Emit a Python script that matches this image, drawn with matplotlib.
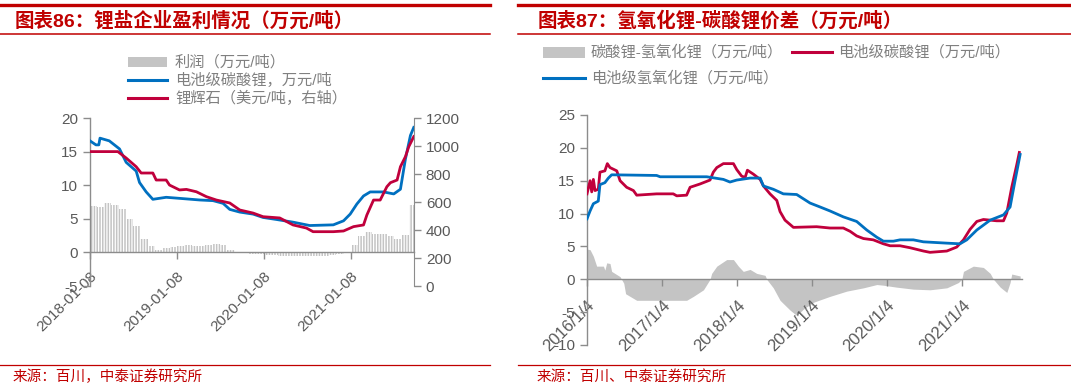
import numpy as np
import matplotlib
matplotlib.use('Agg')
import matplotlib.pyplot as plt
import matplotlib.dates as mdates
from matplotlib.patches import Rectangle
from matplotlib.lines import Line2D

plt.rcParams['font.family'] = ['Liberation Sans', 'Noto Sans CJK SC']
plt.rcParams['hatch.linewidth'] = 0.9
plt.rcParams['axes.unicode_minus'] = False

# ---------------- data: chart 86 ----------------
# 电池级碳酸锂 (万元/吨, left axis)
li2co3_dates = ['2018-01-08', '2018-02-02', '2018-02-14', '2018-02-19', '2018-03-30', '2018-05-12',
                '2018-06-09', '2018-07-21', '2018-08-04', '2018-09-01', '2018-09-29', '2018-11-24',
                '2019-02-03', '2019-04-14', '2019-06-09', '2019-07-21', '2019-08-18', '2019-09-29',
                '2019-11-24', '2020-01-05', '2020-03-01', '2020-05-10', '2020-07-19', '2020-10-26',
                '2020-12-08', '2021-01-05', '2021-02-02', '2021-03-02', '2021-03-30', '2021-05-25',
                '2021-07-07', '2021-08-04', '2021-08-25', '2021-09-15', '2021-09-29']
li2co3_vals = [16.6, 16.0, 16.0, 17.0, 16.6, 15.4,
               13.4, 12.1, 10.4, 9.0, 7.9, 8.2,
               8.0, 7.8, 7.7, 7.3, 6.4, 6.0,
               5.7, 5.2, 4.9, 4.5, 4.0, 4.1,
               4.7, 5.7, 7.2, 8.4, 9.0, 9.0,
               8.7, 9.4, 13.9, 17.4, 18.6]

# 锂辉石 (美元/吨, right axis)
spod_dates = ['2018-01-08', '2018-05-05', '2018-06-09', '2018-07-21', '2018-08-11', '2018-09-29',
              '2018-10-13', '2018-11-24', '2018-12-08', '2019-01-19', '2019-02-17', '2019-03-31',
              '2019-05-12', '2019-06-23', '2019-08-18', '2019-09-29', '2019-11-24', '2020-01-05',
              '2020-03-15', '2020-05-10', '2020-07-05', '2020-08-02', '2020-10-26', '2020-12-08',
              '2021-01-19', '2021-03-02', '2021-03-16', '2021-04-13', '2021-05-11', '2021-06-08',
              '2021-06-23', '2021-07-21', '2021-08-04', '2021-08-25', '2021-09-08', '2021-09-29']
spod_vals = [960, 960, 914, 852, 807, 807,
             757, 757, 721, 686, 690, 673,
             638, 614, 593, 543, 521, 495,
             486, 436, 414, 388, 388, 393,
             424, 436, 507, 614, 614, 709,
             738, 757, 852, 924, 995, 1067]

# 利润 (万元/吨), one bar per month from 2018-01
profit_vals = [6.9, 6.7, 7.4, 7.0, 6.4, 5.0, 4.0, 2.0, 0.9, 0.4,
               0.6, 0.8, 1.0, 1.1, 1.0, 1.0, 1.1, 1.2, 1.1, 0.3,
               0.05, -0.05, -0.2, -0.3, -0.4, -0.4, -0.5, -0.5, -0.6, -0.6,
               -0.6, -0.6, -0.5, -0.4, -0.3, -0.1, 1.1, 2.4, 3.1, 2.8,
               2.7, 2.5, 2.0, 2.6, 7.0]

left_ticks = ['2018-01-08', '2019-01-08', '2020-01-08', '2021-01-08']

# ---------------- data: chart 87 ----------------
carb_dates = ['2016-01-04', '2016-01-19', '2016-01-27', '2016-02-04', '2016-02-12', '2016-02-28',
              '2016-03-07', '2016-03-31', '2016-04-12', '2016-04-25', '2016-05-28', '2016-06-13',
              '2016-07-15', '2016-08-17', '2016-09-02', '2016-12-08', '2017-02-27', '2017-03-16',
              '2017-05-03', '2017-05-20', '2017-07-07', '2017-08-25', '2017-09-10', '2017-09-27',
              '2017-10-29', '2017-12-17', '2018-01-02', '2018-01-26', '2018-02-12', '2018-02-23',
              '2018-03-24', '2018-04-26', '2018-05-12', '2018-06-13', '2018-07-16', '2018-08-01',
              '2018-08-25', '2018-10-05', '2019-01-26', '2019-04-01', '2019-06-05', '2019-07-08',
              '2019-08-09', '2019-09-11', '2019-10-29', '2019-12-17', '2020-01-19', '2020-03-07',
              '2020-04-25', '2020-06-29', '2020-07-31', '2020-10-21', '2020-12-08', '2021-01-10',
              '2021-02-11', '2021-03-16', '2021-04-17', '2021-06-21', '2021-07-24', '2021-08-09',
              '2021-09-02', '2021-09-27', '2021-10-09']
carb_vals = [13.0, 15.0, 13.3, 15.2, 13.5, 13.7,
             16.3, 16.5, 17.6, 17.0, 16.5, 15.0,
             14.0, 13.5, 12.8, 13.0, 13.0, 12.7,
             12.8, 14.0, 14.5, 15.1, 16.3, 17.0,
             17.6, 17.6, 16.7, 15.7, 15.5, 16.6,
             16.0, 15.2, 14.2, 13.0, 12.0, 10.3,
             9.0, 7.9, 8.0, 7.8, 7.8, 7.3,
             6.6, 6.2, 6.0, 5.4, 5.1, 5.1,
             4.8, 4.3, 4.1, 4.3, 4.9, 6.0,
             7.6, 8.8, 9.1, 8.9, 8.9, 10.1,
             14.0, 17.5, 19.3]

hydr_dates = ['2016-01-04', '2016-01-19', '2016-02-04', '2016-02-28', '2016-03-07', '2016-03-31',
              '2016-04-17', '2016-05-03', '2016-12-08', '2016-12-25', '2017-08-09', '2017-10-29',
              '2017-11-30', '2018-01-02', '2018-03-08', '2018-04-26', '2018-05-12', '2018-06-29',
              '2018-08-17', '2018-10-21', '2018-12-25', '2019-02-12', '2019-04-01', '2019-06-05',
              '2019-08-09', '2019-09-27', '2019-11-15', '2019-12-17', '2020-02-04', '2020-03-07',
              '2020-05-11', '2020-06-29', '2020-10-21', '2020-12-24', '2021-01-26', '2021-03-16',
              '2021-05-20', '2021-07-24', '2021-08-25', '2021-09-18', '2021-10-13']
hydr_vals = [9.2, 10.4, 11.5, 11.9, 14.4, 14.7,
             15.4, 15.9, 15.8, 15.6, 15.6, 15.2,
             14.8, 15.1, 15.4, 15.4, 14.2, 13.7,
             13.0, 12.9, 11.6, 11.0, 10.4, 9.5,
             8.8, 7.5, 6.4, 5.8, 5.8, 6.0,
             6.0, 5.7, 5.5, 5.4, 6.0, 7.5,
             9.0, 9.8, 11.0, 15.0, 19.0]

spread_dates = ['2016-01-04', '2016-01-19', '2016-02-04', '2016-02-20', '2016-03-24', '2016-03-31',
                '2016-04-09', '2016-04-25', '2016-05-03', '2016-06-13', '2016-07-01', '2016-07-10',
                '2016-09-02', '2017-05-03', '2017-06-05', '2017-07-24', '2017-08-25', '2017-09-02',
                '2017-09-27', '2017-11-14', '2017-12-17', '2018-01-10', '2018-02-03', '2018-03-08',
                '2018-04-09', '2018-05-20', '2018-05-28', '2018-06-29', '2018-08-01', '2018-09-19',
                '2018-10-21', '2018-11-24', '2019-01-10', '2019-04-01', '2019-06-22', '2019-09-11',
                '2019-11-15', '2019-12-17', '2020-02-20', '2020-05-11', '2020-07-31', '2020-10-21',
                '2020-12-16', '2021-01-02', '2021-01-10', '2021-02-27', '2021-04-17', '2021-05-20',
                '2021-06-05', '2021-07-08', '2021-08-09', '2021-08-25', '2021-09-02', '2021-10-13']
spread_vals = [4.6, 4.5, 3.5, 2.0, 2.0, 1.4,
               2.5, 2.4, 1.2, 0.4, -0.6, -2.2,
               -3.2, -3.2, -2.6, -1.6, 0.0, 0.9,
               2.0, 3.0, 3.0, 2.0, 1.2, 1.5,
               0.9, 0.6, 0.0, -1.3, -3.2, -4.7,
               -5.5, -4.5, -3.5, -2.6, -1.8, -1.3,
               -0.8, -0.9, -1.2, -1.5, -1.6, -1.3,
               -0.5, 0.0, 1.2, 2.0, 1.8, 0.9,
               0.0, -1.2, -2.0, -0.5, 0.8, 0.5]

right_ticks = ['2016-01-04', '2017-01-04', '2018-01-04', '2019-01-04', '2020-01-04', '2021-01-04']
right_labels = ['2016/1/4', '2017/1/4', '2018/1/4', '2019/1/4', '2020/1/4', '2021/1/4']

# ---------------- styling ----------------
RED_T = '#C00000'
BLUE = '#0070C0'
RED = '#C0003C'
GRAY = '#C4C4C4'
SPINE = '#8C8C8C'
TXT = '#595959'
LEG = '#808080'

W, H = 1071, 387
def fx(x):
    return x / W
def fy(y):
    return 1 - y / H

d = mdates.datestr2num

fig = plt.figure(figsize=(W / 100, H / 100), dpi=100)

# header / footer decoration
for x0, x1 in [(0, 490), (518, 1071)]:
    fig.add_artist(Line2D([fx(x0), fx(x1)], [fy(4.5), fy(4.5)], color=RED_T, lw=2.4))
    fig.add_artist(Line2D([fx(x0), fx(x1)], [fy(33.5), fy(33.5)], color=RED_T, lw=1.1))
    fig.add_artist(Line2D([fx(x0), fx(x1)], [fy(365), fy(365)], color=RED_T, lw=0.9))

fig.text(fx(15), fy(21), '图表86：锂盐企业盈利情况（万元/吨）', color=RED_T, fontsize=14,
         fontweight='bold', va='center', ha='left')
fig.text(fx(538), fy(21), '图表87：氢氧化锂-碳酸锂价差（万元/吨）', color=RED_T, fontsize=14,
         fontweight='bold', va='center', ha='left')
fig.text(fx(13), fy(377), '来源：百川，中泰证券研究所', color=RED_T, fontsize=10.5, va='center')
fig.text(fx(537), fy(377), '来源：百川、中泰证券研究所', color=RED_T, fontsize=10.5, va='center')

# legends (hand placed like the report)
fig.add_artist(Rectangle((fx(128), fy(66.5)), fx(39), 9 / H, color=GRAY, lw=0))
fig.add_artist(Line2D([fx(128), fx(167)], [fy(80), fy(80)], color=BLUE, lw=2.2))
fig.add_artist(Line2D([fx(128), fx(167)], [fy(98), fy(98)], color=RED, lw=2.2))
fig.text(fx(175), fy(62), '利润（万元/吨）', color=LEG, fontsize=11, va='center')
fig.text(fx(175), fy(80), '电池级碳酸锂，万元/吨', color=LEG, fontsize=11, va='center')
fig.text(fx(175), fy(98), '锂辉石（美元/吨，右轴）', color=LEG, fontsize=11, va='center')

fig.add_artist(Rectangle((fx(543), fy(57.5)), fx(42), 11 / H, color=GRAY, lw=0))
fig.add_artist(Line2D([fx(792), fx(832)], [fy(52), fy(52)], color=RED, lw=2.2))
fig.add_artist(Line2D([fx(543), fx(585)], [fy(78), fy(78)], color=BLUE, lw=2.2))
fig.text(fx(591), fy(52), '碳酸锂-氢氧化锂（万元/吨）', color=LEG, fontsize=11, va='center')
fig.text(fx(838), fy(52), '电池级碳酸锂（万元/吨）', color=LEG, fontsize=11, va='center')
fig.text(fx(591), fy(78), '电池级氢氧化锂（万元/吨）', color=LEG, fontsize=11, va='center')


def style_axis(ax, fs):
    for s in ['top', 'right']:
        ax.spines[s].set_visible(False)
    for s in ['left', 'bottom']:
        ax.spines[s].set_color(SPINE)
        ax.spines[s].set_linewidth(1.0)
    ax.spines['bottom'].set_position(('data', 0))
    ax.tick_params(colors=SPINE, labelcolor=TXT, labelsize=fs, length=5, width=1.0)
    ax.patch.set_alpha(0)


def rotate_dates(ax, ticks, labels, fs, pad):
    ax.set_xticks(d(ticks))
    ax.set_xticklabels(labels)
    ax.tick_params(axis='x', labelrotation=45, labelsize=fs, pad=pad)
    for t in ax.get_xticklabels():
        t.set_ha('right')
        t.set_va('top')
        t.set_rotation_mode('anchor')


# ---------------- chart 86 ----------------
ax1 = fig.add_axes([fx(90), fy(286), fx(324), 168 / H])
p_dates = [d('%d-%02d-08' % (2018 + m // 12, m % 12 + 1)) for m in range(len(profit_vals))]
ax1.bar(p_dates, profit_vals, width=30.5, color=GRAY, edgecolor='white', linewidth=0,
        hatch='||||||', align='edge', zorder=1)
ax1.plot(d(li2co3_dates), li2co3_vals, color=BLUE, lw=2.0, zorder=3)
ax1.set_ylim(-5, 20)
ax1.set_yticks(np.arange(-5, 21, 5))
ax1.set_xlim(d('2018-01-08'), d('2021-09-30'))
style_axis(ax1, 11)
rotate_dates(ax1, left_ticks, left_ticks, 11, 7)

ax1r = ax1.twinx()
ax1r.plot(d(spod_dates), spod_vals, color=RED, lw=2.0)
ax1r.set_ylim(0, 1200)
ax1r.set_yticks(np.arange(0, 1201, 200))
for s in ['top', 'left', 'bottom']:
    ax1r.spines[s].set_visible(False)
ax1r.spines['right'].set_color(SPINE)
ax1r.tick_params(colors=SPINE, labelcolor=TXT, labelsize=11, length=5, width=1.0)
ax1r.set_xlim(ax1.get_xlim())

# ---------------- chart 87 ----------------
ax2 = fig.add_axes([fx(587), fy(345), fx(435), 230 / H])
ax2.fill_between(d(spread_dates), 0, spread_vals, color=GRAY, lw=0, zorder=1)
ax2.plot(d(carb_dates), carb_vals, color=RED, lw=2.0, zorder=3)
ax2.plot(d(hydr_dates), hydr_vals, color=BLUE, lw=2.0, zorder=4)
ax2.set_ylim(-10, 25)
ax2.set_yticks(np.arange(-10, 26, 5))
ax2.set_xlim(d('2016-01-04'), d('2021-10-22'))
style_axis(ax2, 11)
rotate_dates(ax2, right_ticks, right_labels, 12, 8)

fig.savefig('out.png', dpi=100)
